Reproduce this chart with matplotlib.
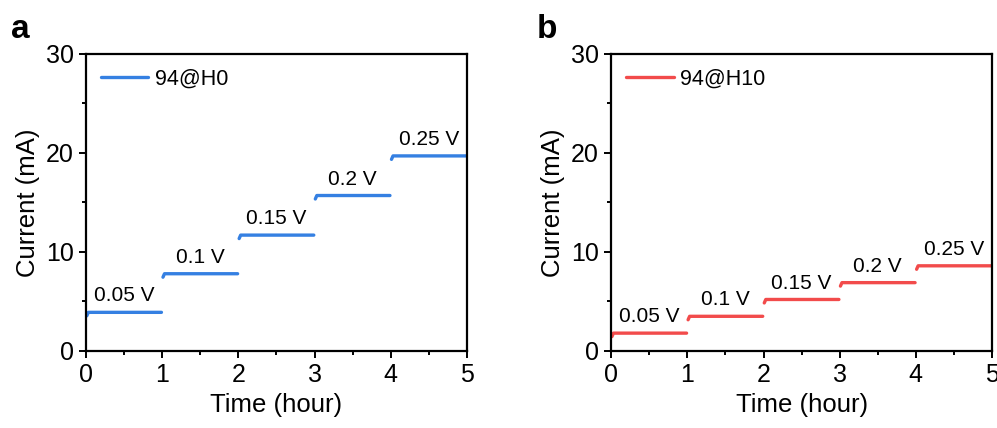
import matplotlib.pyplot as plt
import numpy as np
from matplotlib.ticker import MultipleLocator

plt.rcParams['font.family'] = ['Liberation Sans', 'DejaVu Sans']

# potentiostatic steps, one hour per applied voltage
voltages = ['0.05 V', '0.1 V', '0.15 V', '0.2 V', '0.25 V']
step_start = [0, 1, 2, 3, 4]
current_h0 = [3.9, 7.8, 11.7, 15.7, 19.7]
current_h10 = [1.8, 3.5, 5.2, 6.9, 8.6]

panels = [
    ('a', '94@H0', current_h0, '#3580e2'),
    ('b', '94@H10', current_h10, '#f24b4b'),
]

fig = plt.figure(figsize=(9.97, 4.28), dpi=100)
lefts = [0.0863, 0.613]
width = 0.382

for (tag, name, current, color), left in zip(panels, lefts):
    ax = fig.add_axes([left, 0.18, width, 0.694])
    for i, (t0, cur) in enumerate(zip(step_start, current)):
        t = np.array([t0 + 0.01, t0 + 0.03, t0 + 0.99])
        y = np.array([cur - 0.35, cur, cur])
        ax.plot(t, y, color=color, lw=2.4, solid_capstyle='round',
                label=name if i == 0 else None)
        ax.text(t0 + 0.5, cur + 0.7, voltages[i], ha='center', va='bottom',
                fontsize=15)
    ax.set_xlim(0, 5)
    ax.set_ylim(0, 30)
    ax.xaxis.set_major_locator(MultipleLocator(1))
    ax.xaxis.set_minor_locator(MultipleLocator(0.5))
    ax.yaxis.set_major_locator(MultipleLocator(10))
    ax.yaxis.set_minor_locator(MultipleLocator(5))
    ax.tick_params(which='major', length=5, width=1.4, labelsize=18,
                   direction='out', pad=4)
    ax.tick_params(which='minor', length=3, width=1.4, direction='out')
    for sp in ax.spines.values():
        sp.set_linewidth(1.6)
    ax.set_xlabel('Time (hour)', fontsize=18.5, labelpad=4)
    ax.set_ylabel('Current (mA)', fontsize=18.5, labelpad=4)
    ax.legend(loc='upper left', frameon=False, fontsize=15.5, handlelength=2.2,
              handletextpad=0.3, borderaxespad=0.3)
    fig.text(left - 0.075, 0.93, tag, fontsize=24, fontweight='bold',
             va='center')

fig.savefig('out.png', dpi=100)
